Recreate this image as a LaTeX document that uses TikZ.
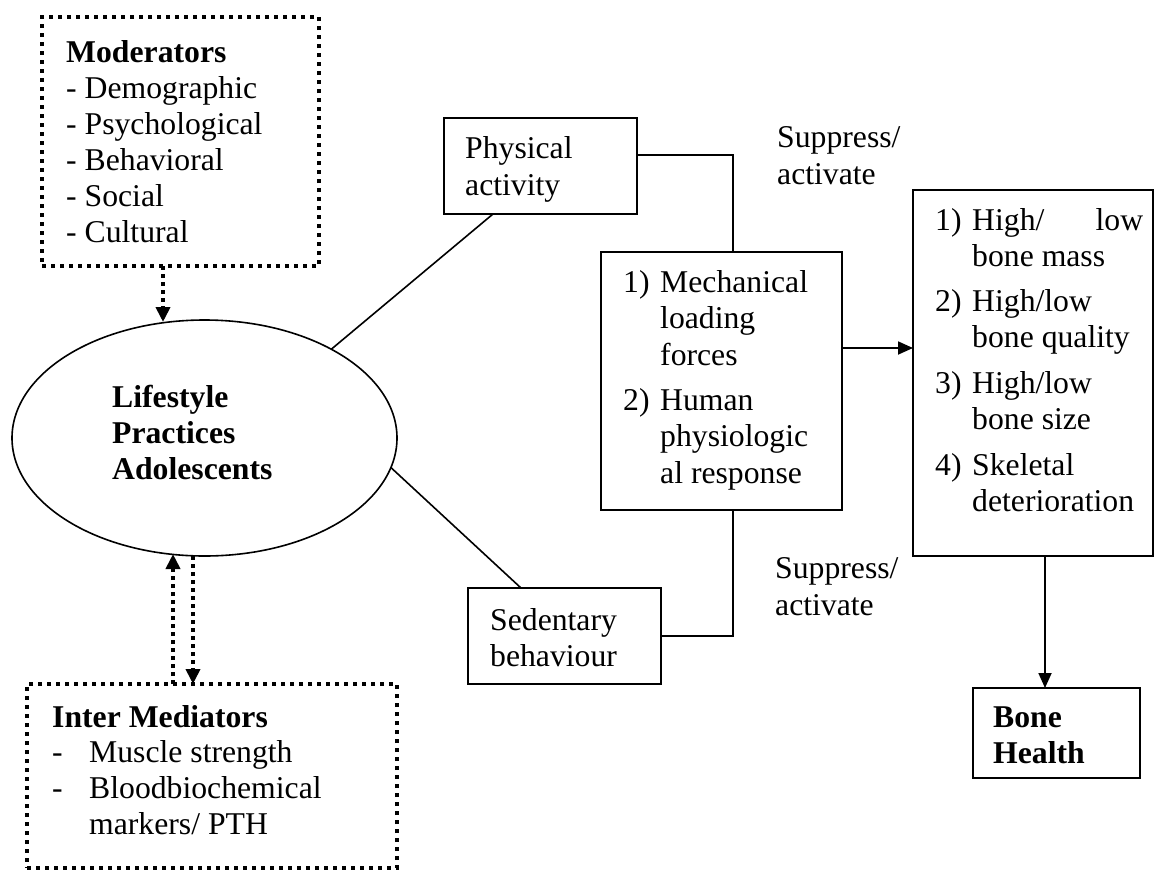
\documentclass[tikz,border=0pt]{standalone}
\usepackage{fontspec}
\setmainfont{Liberation Serif}
\usetikzlibrary{arrows.meta,shapes.geometric,calc}
\begin{document}
\begin{tikzpicture}[x=1pt,y=-1pt,
  txt/.style={inner sep=0pt, anchor=base west, align=left, font=\fontsize{31.7}{36}\selectfont},
  btxt/.style={inner sep=0pt, anchor=base west, align=left, font=\fontsize{31.7}{36}\selectfont\bfseries},
  box/.style={draw, line width=1.8pt, inner sep=0pt, outer sep=0pt, anchor=north west},
  dotbox/.style={draw, line width=3.8pt, dash pattern=on 4pt off 5pt, inner sep=0pt, outer sep=0pt, anchor=north west},
  conn/.style={line width=1.6pt},
  arr/.style={line width=1.8pt, -{Triangle[length=15pt,width=13pt]}},
  dotarr/.style={line width=3.8pt, dash pattern=on 4pt off 4pt, -{Triangle[length=15pt,width=14pt]}}
]
\useasboundingbox (0,0) rectangle (1168,871);

% boxes
\node[dotbox, minimum width=277pt, minimum height=249pt] (mod) at (42,17) {};
\node[dotbox, minimum width=370pt, minimum height=184pt] (im) at (27,684) {};
\node[draw, ellipse, line width=1.6pt, minimum width=385pt, minimum height=236pt, inner sep=0pt, outer sep=0pt] (ell) at (204.5,438) {};
\node[box, minimum width=193pt, minimum height=96pt] (pa) at (444,118) {};
\node[box, minimum width=241pt, minimum height=258pt] (mech) at (601,252) {};
\node[box, minimum width=240pt, minimum height=366pt] (res) at (913,190) {};
\node[box, minimum width=167pt, minimum height=90pt] (bh) at (973,688) {};
\node[box, minimum width=193pt, minimum height=96pt] (sed) at (468,588) {};

% texts (base anchor = last line)
\node[btxt] (modt) at (66,62) {Moderators};
\node[txt] (modl) at (66,242) {- Demographic\\- Psychological\\- Behavioral\\- Social\\- Cultural};
\node[btxt] (ellt) at (112,479) {Lifestyle\\Practices\\Adolescents};
\node[btxt] (imt) at (52,727) {Inter Mediators};
\node[txt] (imd1) at (52,762) {-};
\node[txt] (imd2) at (52,798) {-};
\node[txt] (iml) at (89,834) {Muscle strength\\Bloodbiochemical\\markers/ PTH};
\node[txt, font=\fontsize{31.7}{37}\selectfont] (pat) at (465,195) {Physical\\activity};
\node[txt, font=\fontsize{31.7}{37}\selectfont] (sup1) at (777,184) {Suppress/\\activate};
\node[txt, font=\fontsize{31.7}{37}\selectfont] (sup2) at (775,615) {Suppress/\\activate};
\node[txt, font=\fontsize{31.7}{36}\selectfont] (sedt) at (490,666) {Sedentary\\behaviour};
\node[txt] (mn1) at (623,292) {1)};
\node[txt, font=\fontsize{31.7}{36.5}\selectfont] (mi1) at (660,365) {Mechanical\\loading\\forces};
\node[txt] (mn2) at (623,410) {2)};
\node[txt, font=\fontsize{31.7}{36.5}\selectfont] (mi2) at (660,483) {Human\\physiologic\\al response};
\node[txt] (rn1) at (935,230) {1)};
\node[txt, font=\fontsize{31.7}{36}\selectfont] (ri1) at (972,266) {\hbox to 171pt{High/\hfill low}\\bone mass};
\node[txt] (rn2) at (935,311) {2)};
\node[txt] (ri2) at (972,347) {High/low\\bone quality};
\node[txt] (rn3) at (935,393) {3)};
\node[txt] (ri3) at (972,429) {High/low\\bone size};
\node[txt] (rn4) at (935,475) {4)};
\node[txt] (ri4) at (972,511) {Skeletal\\deterioration};
\node[btxt] (bht) at (993,763) {Bone\\Health};

% connectors
\draw[conn] (ell.35.4) -- ([xshift=49pt]pa.south west);
\draw[conn] (ell.-9.4) -- ([xshift=53pt]sed.north west);
\draw[conn] ([yshift=11pt]pa.east) -| ([xshift=132pt]mech.north west);
\draw[conn] ([xshift=132pt]mech.south west) |- (sed.east);
\coordinate (m1) at ([yshift=33pt]mech.east);
\draw[arr] (m1) -- (m1 -| res.west);
\coordinate (r1) at ([xshift=12pt]res.south);
\draw[arr] (r1) -- (r1 |- bh.north);

% dotted arrows
\coordinate (mo) at ([xshift=-17.5pt]mod.south);
\coordinate (me) at ([yshift=-2pt]mo |- ell.north);
\draw[dotarr] (mo) -- (me);
\coordinate (iu) at ([xshift=-39pt]im.north);
\coordinate (id) at ([xshift=-19pt]im.north);
\coordinate (iue) at ([yshift=2pt]iu |- ell.south);
\coordinate (ids) at (id |- ell.south);
\draw[dotarr] (iu) -- (iue);
\draw[dotarr] (ids) -- (id);
\end{tikzpicture}
\end{document}
